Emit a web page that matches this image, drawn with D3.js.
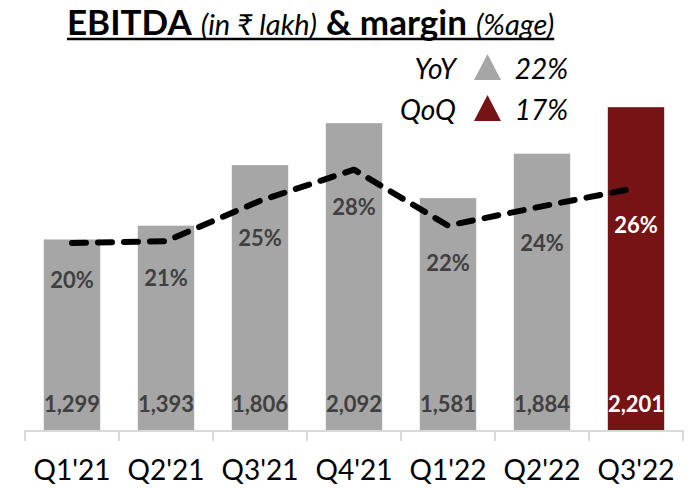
<!DOCTYPE html>
<html>
<head>
<meta charset="utf-8">
<script src="https://cdn.jsdelivr.net/npm/d3@7"></script>
<style>
  body { margin: 0; background: #ffffff; }
  #chart text { font-family: Lato, "Noto Sans", "DejaVu Sans", sans-serif; }
</style>
</head>
<body>
<div id="chart"></div>
<script>
// quarters
const categories = ["Q1'21", "Q2'21", "Q3'21", "Q4'21", "Q1'22", "Q2'22", "Q3'22"];
// EBITDA in ₹ lakh
const ebitda = [1299, 1393, 1806, 2092, 1581, 1884, 2201];
// EBITDA margin (%), line position
const margin = [20.4, 20.6, 25.0, 28.4, 22.3, 24.4, 26.4];
// margin labels as printed
const marginLabels = ["20%", "21%", "25%", "28%", "22%", "24%", "26%"];
// growth legend
const growthNames = ["YoY", "QoQ"];
const growthValues = ["22%", "17%"];

const width = 694;
const height = 488;
const baseY = 430;
const topY = 100;

const grey = "#a6a6a6";
const red = "#761315";
const labelGrey = "#404040";

const svg = d3.select("#chart")
    .append("svg")
    .attr("width", width)
    .attr("height", height);

// 比例尺
const x = d3.scaleBand()
    .domain(categories)
    .range([25, 683])
    .paddingInner(0.4)
    .paddingOuter(0.2);

const y = d3.scaleLinear()
    .domain([0, 2250])
    .range([baseY, topY]);

const y2 = d3.scaleLinear()
    .domain([0, 36])
    .range([baseY, topY]);

const last = categories[categories.length - 1];

// title, pieces placed one after another, underline drawn below
const titleParts = [
    { text: "EBITDA", bold: true },
    { text: "(in ₹ lakh)", bold: false },
    { text: "& margin", bold: true },
    { text: "(%age)", bold: false }
];
let tx = 67;
titleParts.forEach((p, i) => {
    const t = svg.append("text")
        .attr("x", tx)
        .attr("y", 35)
        .attr("fill", "#000")
        .attr("font-size", p.bold ? 35 : 29)
        .attr("font-weight", p.bold ? "bold" : "normal")
        .attr("font-style", p.bold ? "normal" : "italic")
        .text(p.text);
    tx += t.node().getComputedTextLength();
    if (i < titleParts.length - 1) tx += 9;
});
svg.append("line")
    .attr("x1", 67)
    .attr("x2", tx)
    .attr("y1", 39)
    .attr("y2", 39)
    .attr("stroke", "#000")
    .attr("stroke-width", 2.5);

// bars
svg.selectAll(".bar")
    .data(categories)
    .enter()
    .append("rect")
    .attr("class", "bar")
    .attr("x", d => x(d))
    .attr("y", (d, i) => y(ebitda[i]))
    .attr("width", x.bandwidth())
    .attr("height", (d, i) => y(0) - y(ebitda[i]))
    .attr("fill", d => d === last ? red : grey);

// axis line + boundary ticks
svg.append("line")
    .attr("x1", x.range()[0])
    .attr("x2", x.range()[1])
    .attr("y1", baseY + 1)
    .attr("y2", baseY + 1)
    .attr("stroke", "#d9d9d9")
    .attr("stroke-width", 2);

const bounds = categories.map(d => x(d) - x.step() * x.paddingInner() / 2);
bounds[0] = x.range()[0];
bounds.push(x.range()[1]);
svg.selectAll(".bound")
    .data(bounds)
    .enter()
    .append("line")
    .attr("class", "bound")
    .attr("x1", d => d)
    .attr("x2", d => d)
    .attr("y1", baseY)
    .attr("y2", baseY + 11)
    .attr("stroke", "#d9d9d9")
    .attr("stroke-width", 2);

svg.append("g")
    .attr("transform", `translate(0,${baseY})`)
    .call(d3.axisBottom(x).tickSize(0).tickPadding(30))
    .call(g => g.select(".domain").remove())
    .call(g => g.selectAll(".tick text")
        .attr("fill", "#000")
        .attr("font-size", 28)
        .style("font-family", "Lato, sans-serif"));

// value labels
svg.selectAll(".val")
    .data(categories)
    .enter()
    .append("text")
    .attr("class", "val")
    .attr("x", d => x(d) + x.bandwidth() / 2)
    .attr("y", 412)
    .attr("text-anchor", "middle")
    .attr("font-size", 22)
    .attr("font-weight", "bold")
    .attr("fill", d => d === last ? "#fff" : labelGrey)
    .text((d, i) => d3.format(",")(ebitda[i]));

// margin line
const line = d3.line()
    .x((d, i) => x(categories[i]) + x.bandwidth() / 2)
    .y(d => y2(d));

svg.append("path")
    .datum(margin)
    .attr("fill", "none")
    .attr("stroke", "#000")
    .attr("stroke-width", 6)
    .attr("stroke-linecap", "round")
    .attr("stroke-linejoin", "round")
    .attr("stroke-dasharray", "14 12")
    .attr("d", line);

// margin labels
svg.selectAll(".pct")
    .data(categories)
    .enter()
    .append("text")
    .attr("class", "pct")
    .attr("x", d => x(d) + x.bandwidth() / 2)
    .attr("y", (d, i) => y2(margin[i]) + 45)
    .attr("text-anchor", "middle")
    .attr("font-size", 22)
    .attr("font-weight", "bold")
    .attr("fill", d => d === last ? "#fff" : labelGrey)
    .text((d, i) => marginLabels[i]);

// growth legend
const legendY = [79, 120];
const legendColor = [grey, red];
growthNames.forEach((name, i) => {
    svg.append("text")
        .attr("x", 456)
        .attr("y", legendY[i])
        .attr("text-anchor", "end")
        .attr("font-size", 28)
        .attr("font-style", "italic")
        .attr("fill", "#000")
        .text(name);
    svg.append("path")
        .attr("d", `M474,${legendY[i] + 1}L501,${legendY[i] + 1}L487.5,${legendY[i] - 25}Z`)
        .attr("fill", legendColor[i]);
    svg.append("text")
        .attr("x", 568)
        .attr("y", legendY[i])
        .attr("text-anchor", "end")
        .attr("font-size", 28)
        .attr("font-style", "italic")
        .attr("fill", "#000")
        .text(growthValues[i]);
});
</script>
</body>
</html>
